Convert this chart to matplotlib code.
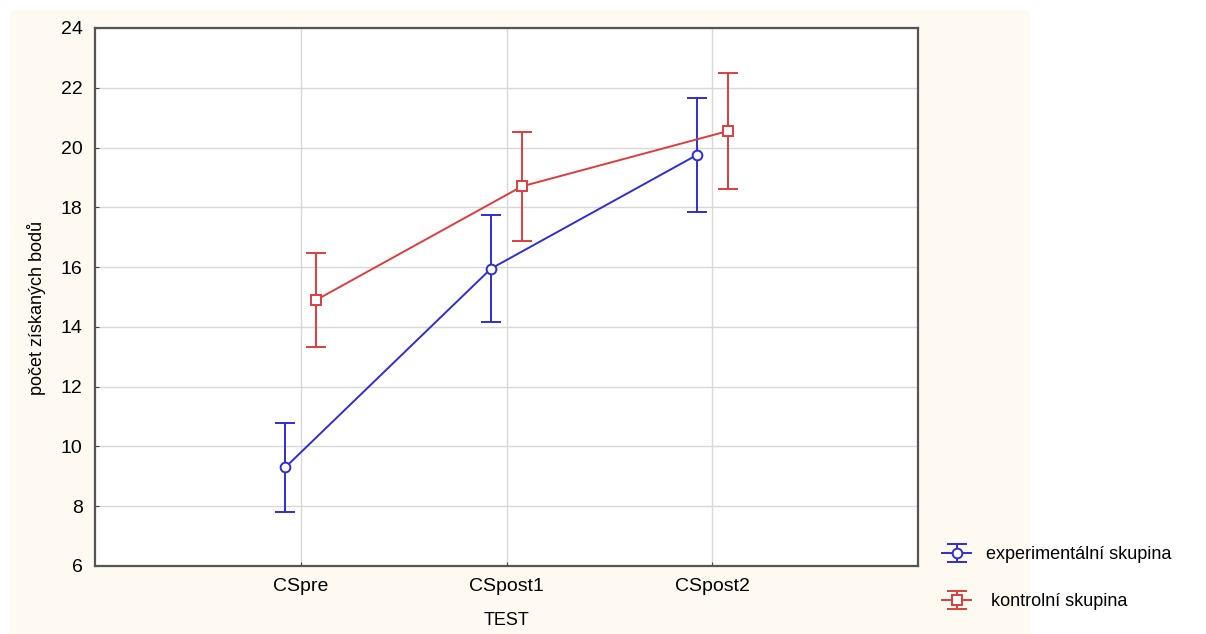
import numpy as np
import matplotlib.pyplot as plt
from matplotlib.patches import Rectangle

plt.rcParams['font.family'] = ['Liberation Sans', 'DejaVu Sans']

# data to plot
tests = ['CSpre', 'CSpost1', 'CSpost2']
exp_mean = [9.3, 15.95, 19.75]
exp_err = [1.5, 1.8, 1.9]
ctrl_mean = [14.9, 18.7, 20.55]
ctrl_err = [1.57, 1.82, 1.95]

blue = '#2e2ed6'
red = '#de3d3d'

fig = plt.figure(figsize=(12.06, 6.34), dpi=100)
fig.patches.append(Rectangle((0.008, 0.0), 0.846, 0.984, transform=fig.transFigure,
                             facecolor='#fefaf1', edgecolor='none', zorder=-10))
ax = fig.add_axes([0.0788, 0.1073, 0.6824, 0.8486])

x = np.arange(1, len(tests) + 1)
off = 0.075
ax.errorbar(x - off, exp_mean, yerr=exp_err, color=blue, lw=1.4, capsize=7,
            capthick=1.4, marker='o', ms=7, mfc='white', mec=blue, mew=1.4,
            label='experimentální skupina')
ax.errorbar(x + off, ctrl_mean, yerr=ctrl_err, color=red, lw=1.4, capsize=7,
            capthick=1.4, marker='s', ms=6.5, mfc='white', mec=red, mew=1.4,
            label=' kontrolní skupina')

ax.set_xlim(0, 4)
ax.set_ylim(6, 24)
ax.set_xticks(x)
ax.set_xticklabels(tests)
ax.set_yticks(np.arange(6, 25, 2))
ax.grid(True, color='#d8d8d8', lw=1)
ax.set_axisbelow(True)
ax.tick_params(labelsize=14, length=3, direction='in', color='#444444', pad=9)
for s in ax.spines.values():
    s.set_color('#555555')
    s.set_linewidth(1.6)

ax.set_xlabel('TEST', fontsize=13, labelpad=12)
ax.set_ylabel('počet získaných bodů', fontsize=13)
ax.yaxis.set_label_coords(-0.06, 0.48)

fig.legend(loc='lower left', bbox_to_anchor=(0.768, 0.012), frameon=False,
           fontsize=13, handlelength=1.6, handletextpad=0.8, labelspacing=1.65)

fig.savefig('out.png', dpi=100)
